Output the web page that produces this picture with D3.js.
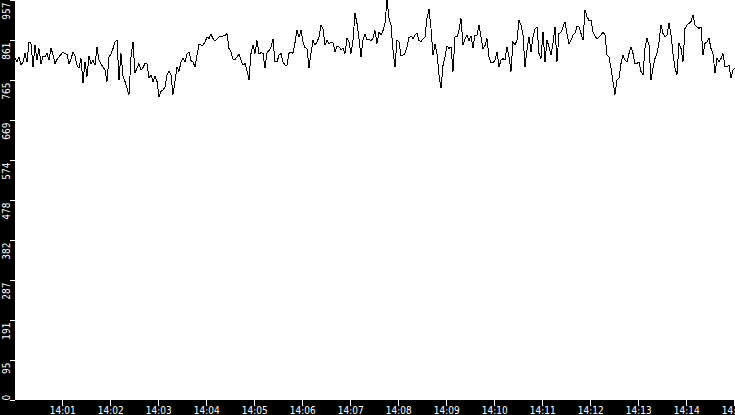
<!DOCTYPE html>
<html>
<head>
	<title>Samples per second</title>
	<style type="text/css">
		body {
			margin: 0;
			background: #000;
		}

		.axis text {
			fill: #fff;
			font: 10px "Liberation Sans Narrow", "DejaVu Sans Condensed", sans-serif;
		}

		.axis line {
			stroke: #fff;
			shape-rendering: crispEdges;
		}

		.axis path {
			display: none;
		}

		.line {
			fill: none;
			stroke: #000;
			stroke-width: 1px;
			shape-rendering: crispEdges;
		}
	</style>
	<script src="https://d3js.org/d3.v7.min.js"></script>
</head>
<body>
<script type="text/javascript">
	// one reading every 2.5 seconds, starting just after 14:00
	var startTime = new Date(2015, 0, 1, 14, 0, 1);
	var stepSeconds = 2.5;

	var values = [
		817,809,821,801,809,829,809,857,853,797, 849,813,841,805,823,821,829,813,843,825,
		805,815,821,827,832,829,827,805,815,833, 823,801,794,817,758,809,774,823,805,812,
		801,845,813,804,797,790,762,821,828,841, 857,861,766,829,775,762,746,730,821,856,
		782,794,805,790,795,805,804,770,778,762, 774,762,726,738,742,748,778,787,778,731,
		762,797,786,809,817,809,828,833,812,809, 796,825,851,849,849,856,869,865,875,865,
		859,864,869,869,871,872,877,841,833,815, 814,821,827,813,801,805,788,766,829,849,
		829,860,828,831,829,794,831,836,845,863, 809,809,825,829,809,801,801,829,833,829,
		855,885,868,885,856,843,841,795,829,861, 849,857,868,897,889,849,860,853,855,855,
		833,847,845,839,841,829,865,857,829,861, 925,901,865,821,861,875,861,863,860,865,
		884,853,881,873,884,901,957,913,897,837, 797,861,857,823,825,829,844,867,871,865,
		873,877,860,858,864,869,913,935,889,825, 851,829,778,746,800,821,847,841,845,786,
		869,869,884,913,849,863,873,859,871,843, 873,873,896,869,841,848,865,821,807,807,
		813,833,797,813,817,813,845,821,786,857, 849,861,909,897,873,797,837,869,833,868,
		887,893,829,817,881,809,861,845,825,853, 893,809,877,880,892,905,875,852,861,873,
		877,895,892,877,861,933,917,908,909,880, 871,864,869,873,881,873,825,820,794,762,
		731,766,770,805,825,813,809,829,845,829, 805,805,809,786,778,841,865,849,766,794,
		817,829,857,897,877,869,873,901,873,829, 794,778,853,841,809,889,897,901,905,921,
		897,893,889,893,825,853,857,865,841,829, 782,817,809,817,829,797,797,801,770,790,
		794
	];

	var data = values.map(function(v, i) {
		return {time: new Date(startTime.getTime() + i * stepSeconds * 1000), value: v};
	});

	var svg = d3.select("body").append("svg")
			.attr("width", 735)
			.attr("height", 415)
			.style("display", "block")
			.style("background", "#000");

	var margin = {top: 0, right: 0, bottom: 15, left: 15},
		width = svg.attr("width") - margin.left - margin.right,
		height = svg.attr("height") - margin.top - margin.bottom;

	var maxValue = d3.max(values);

	var x = d3.scaleTime().domain(d3.extent(data, function(d) { return d.time; })).range([0, width]),
		y = d3.scaleLinear().domain([0, maxValue]).range([height, 0]);

	// ten equal steps up to the largest reading
	var yTicks = d3.range(11).map(function(k) { return maxValue * k / 10; });

	var g = svg.append("g")
			.attr("transform", "translate(" + margin.left + "," + margin.top + ")");

	g.append("rect")
		.attr("width", width)
		.attr("height", height)
		.attr("fill", "#fff");

	g.append("path")
		.datum(data)
		.attr("class", "line")
		.attr("d", d3.line()
			.x(function(d) { return x(d.time); })
			.y(function(d) { return y(d.value); }));

	g.append("g")
		.attr("class", "x axis")
		.attr("transform", "translate(0," + height + ")")
		.call(d3.axisBottom(x)
			.ticks(d3.timeMinute.every(1))
			.tickFormat(d3.timeFormat("%H:%M"))
			.tickSize(6)
			.tickPadding(1));

	var yAxis = g.append("g")
		.attr("class", "y axis")
		.call(d3.axisLeft(y)
			.tickValues(yTicks)
			.tickFormat(function(d) { return Math.floor(d); })
			.tickSize(5));

	yAxis.selectAll(".tick text")
		.attr("transform", "rotate(-90)")
		.attr("x", function(d) { return d === 0 ? 0 : -2; })
		.attr("y", -5.5)
		.attr("dy", 0)
		.attr("text-anchor", function(d) { return d === 0 ? "start" : "end"; });
</script>
</body>
</html>
